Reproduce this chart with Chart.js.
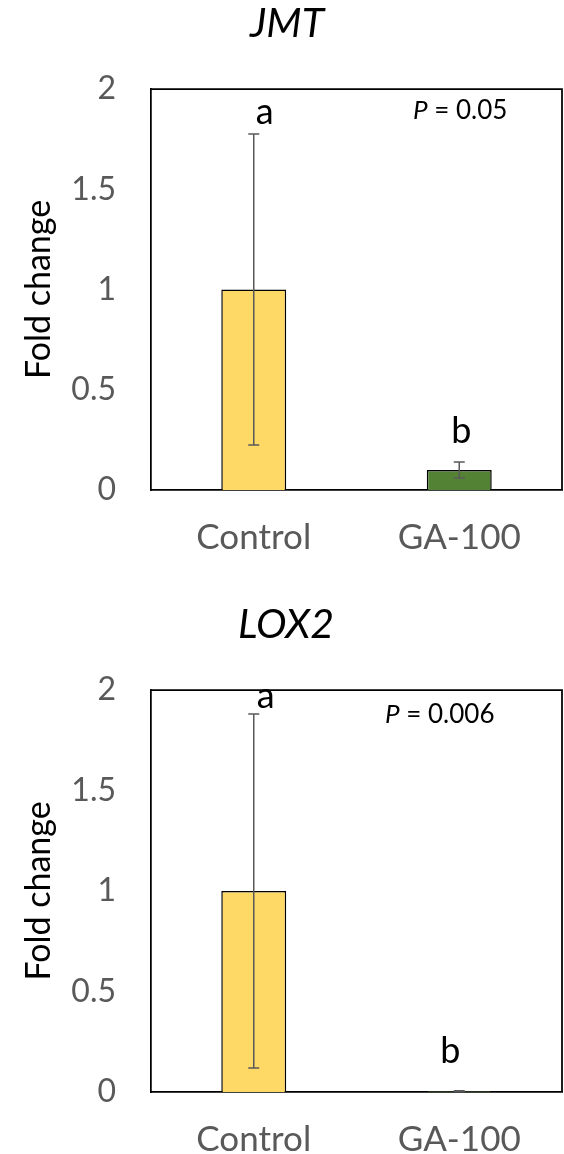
<!DOCTYPE html>
<html>
<head>
<meta charset="utf-8">
<script src="https://cdn.jsdelivr.net/npm/chart.js@4.4.0/dist/chart.umd.min.js"></script>
<style>
  html, body { margin: 0; padding: 0; background: #fff; overflow: hidden; width: 564px; height: 1154px; }
  .panel { position: absolute; left: 0; width: 564px; }
  #p1 { top: 0; height: 577px; }
  #p2 { top: 601px; height: 578px; }
</style>
</head>
<body>
<div class="panel" id="p1"><canvas id="c1"></canvas></div>
<div class="panel" id="p2"><canvas id="c2"></canvas></div>
<script>
// Treatments and y-axis tick labels
const categories = ['Control', 'GA-100'];
const yTickLabels = ['0', '0.5', '1', '1.5', '2'];
const barColors = ['#FFD966', '#548235'];

// JMT relative expression (mean and SD)
const jmtMean = [1.0, 0.10];
const jmtSD = [0.775, 0.04];
const jmtLetters = ['a', 'b'];
const jmtP = '0.05';

// LOX2 relative expression (mean and SD)
const lox2Mean = [1.0, 0.004];
const lox2SD = [0.88, 0.002];
const lox2Letters = ['a', 'b'];
const lox2P = '0.006';

const FONT = 'Lato, "Open Sans", sans-serif';
const GREY = '#595959';

// Frame, error bars, significance letters, P value, titles
const decorPlugin = {
  id: 'decor',
  afterDatasetsDraw(chart, args, opts) {
    const ctx = chart.ctx;
    const a = chart.chartArea;
    const xs = chart.scales.x, ys = chart.scales.y;
    ctx.save();

    // top and right edges of the plot frame
    ctx.strokeStyle = '#000';
    ctx.lineWidth = 1.75;
    ctx.beginPath();
    ctx.moveTo(a.left, a.top);
    ctx.lineTo(a.right, a.top);
    ctx.lineTo(a.right, a.bottom);
    ctx.stroke();

    // error bars
    ctx.strokeStyle = GREY;
    ctx.lineWidth = 1.5;
    opts.mean.forEach((m, i) => {
      const x = xs.getPixelForValue(i);
      const yHi = ys.getPixelForValue(m + opts.sd[i]);
      const yLo = ys.getPixelForValue(Math.max(0, m - opts.sd[i]));
      ctx.beginPath();
      ctx.moveTo(x, yHi); ctx.lineTo(x, yLo);
      ctx.moveTo(x - 5.5, yHi); ctx.lineTo(x + 5.5, yHi);
      ctx.moveTo(x - 5.5, yLo); ctx.lineTo(x + 5.5, yLo);
      ctx.stroke();
    });

    // significance letters
    ctx.fillStyle = '#000';
    ctx.font = '36px ' + FONT;
    ctx.textAlign = 'center';
    ctx.textBaseline = 'alphabetic';
    opts.letters.forEach((t, i) => {
      const x = xs.getPixelForValue(i) + opts.letterDx[i];
      const y = ys.getPixelForValue(opts.letterY[i]);
      ctx.fillText(t, x, y);
    });

    // P value
    ctx.textAlign = 'left';
    ctx.font = 'italic 26px ' + FONT;
    const px = opts.pPos[0], py = opts.pPos[1];
    ctx.fillText('P', px, py);
    const w = ctx.measureText('P').width;
    ctx.font = '26px ' + FONT;
    ctx.fillText(' = ' + opts.pValue, px + w, py);

    // gene name
    ctx.textAlign = 'center';
    ctx.font = 'italic 41px ' + FONT;
    ctx.fillText(opts.title, opts.titleX, 37);

    // y-axis title
    ctx.translate(50, (a.top + a.bottom) / 2);
    ctx.rotate(-Math.PI / 2);
    ctx.font = '34px ' + FONT;
    ctx.fillText('Fold change', 0, 0);
    ctx.restore();
  }
};

function makeChart(id, mean, sd, decor) {
  return new Chart(document.getElementById(id), {
    type: 'bar',
    data: {
      labels: categories,
      datasets: [{
        data: mean,
        backgroundColor: barColors,
        borderColor: '#000',
        borderWidth: 1.5,
        barPercentage: 0.316,
        categoryPercentage: 1.0
      }]
    },
    options: {
      responsive: true,
      maintainAspectRatio: false,
      animation: false,
      events: [],
      layout: { padding: { top: 89, right: 2, left: 0, bottom: 0 } },
      plugins: {
        legend: { display: false },
        tooltip: { enabled: false },
        title: { display: false },
        decor: Object.assign({ mean: mean, sd: sd }, decor)
      },
      scales: {
        x: {
          grid: { display: false, drawTicks: false },
          border: { display: true, color: '#000', width: 1.75 },
          ticks: { color: GREY, font: { family: FONT, size: 35 }, padding: 27, maxRotation: 0 },
          afterFit(s) { s.height = 87; }
        },
        y: {
          min: 0, max: 2,
          grid: { display: false, drawTicks: false },
          border: { display: true, color: '#000', width: 1.75 },
          ticks: {
            stepSize: 0.5,
            color: GREY,
            font: { family: FONT, size: 32 },
            padding: 35,
            callback: (v, i) => yTickLabels[i]
          },
          afterFit(s) { s.width = 151; }
        }
      }
    },
    plugins: [decorPlugin]
  });
}

makeChart('c1', jmtMean, jmtSD, {
  title: 'JMT', titleX: 287,
  letters: jmtLetters, letterY: [1.825, 0.236], letterDx: [11, 2],
  pValue: jmtP, pPos: [413, 119]
});

makeChart('c2', lox2Mean, lox2SD, {
  title: 'LOX2', titleX: 286,
  letters: lox2Letters, letterY: [1.91, 0.144], letterDx: [12, -9],
  pValue: lox2P, pPos: [385, 122]
});
</script>
</body>
</html>
